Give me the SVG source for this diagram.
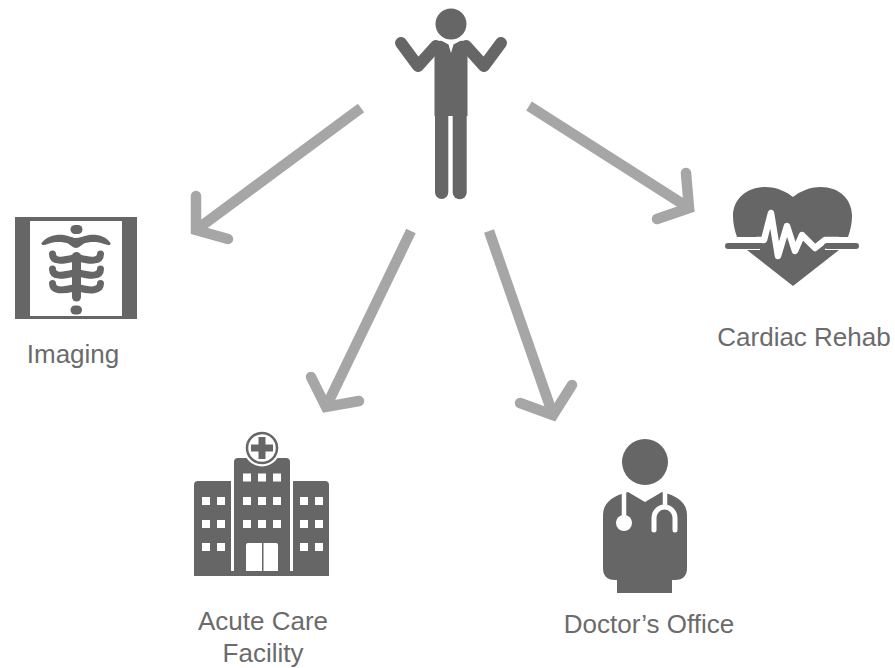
<svg xmlns="http://www.w3.org/2000/svg" width="895" height="668" viewBox="0 0 895 668">
<style>
.f{fill:#666}
.w{fill:#fff}
.ws{fill:none;stroke:#fff;stroke-linecap:round;stroke-linejoin:round}
.gs{fill:none;stroke:#666;stroke-linecap:round;stroke-linejoin:round}
.a{fill:none;stroke:#a6a6a6;stroke-width:10.5}
.b{stroke-linecap:round;stroke-linejoin:miter;stroke-miterlimit:10}
text{font-family:"Liberation Sans",Arial,sans-serif;font-size:26px;fill:#6b6b6b;text-anchor:middle}
</style>
<rect width="895" height="668" fill="#fff"/>
<g id="connectors">
<path class="a" d="M361 108L196 230"/><path class="a b" d="M196 196V230L228 239"/>
<path class="a" d="M411 231L326 407"/><path class="a b" d="M311 377L326 407L359 401"/>
<path class="a" d="M489 231L553 415"/><path class="a b" d="M520 403L553 415L572 385"/>
<path class="a" d="M529 106L689 208"/><path class="a b" d="M686 173L689 208L657 219"/>
</g>
<g id="person">
<circle class="f" cx="451" cy="24" r="15.500"/>
<path class="f" d="M434.500 46Q436 40 442 41L448.500 44.500L451 53L453.500 44.500L460 41Q466 40 467.500 46V116H434.500Z"/>
<path class="f" d="M435 110H448.300V192.300A6.650 6.650 0 0 1 435 192.300Z"/>
<path class="f" d="M452.700 110H466.700V192.300A7 7 0 0 1 452.700 192.300Z"/>
<path class="gs" stroke-width="12" d="M401 43L418 66L436 46M501 43L484 66L466 46"/>
</g>
<g id="imaging">
<rect class="f" x="15" y="217" width="122" height="102"/>
<rect class="w" x="30" y="221" width="92" height="95"/>
<rect class="f" x="70.500" y="225" width="12" height="9" rx="4.500"/>
<rect class="f" x="70.500" y="305.500" width="11.500" height="9" rx="4.500"/>
<path class="f" d="M41.500 243C47 236 56 234 64 235C70 236 73 238 76 238C79 238 83 236 89 235C97 234 106 236 110.500 243C111 246 108 245 104 244C97 241 90 242 85 243C81 245 79 248 76 248C73 248 71 245 67 243C62 242 55 241 48 244C45 245 41 246 41.500 243Z"/>
<path class="gs" stroke-width="9" d="M76.500 256.500V297"/>
<path class="gs" stroke-width="7" d="M52.500 254C52.500 262 62 261 74 258M100.500 254C100.500 262 90 261 79 258"/>
<path class="gs" stroke-width="7" d="M52.500 269C52.500 277 62 276 74 273M100.500 269C100.500 277 90 276 79 273"/>
<path class="gs" stroke-width="7" d="M52.500 283.500C52.500 291 62 291 74 288M100.500 283.500C100.500 291 90 291 79 288"/>
</g>
<g id="hospital">
<path class="f" d="M194 576V485Q194 481 198 481H231V571H234V462Q234 458 238 458H286Q290 458 290 462V571H293V481H325Q329 481 329 485V576Z"/>
<circle class="w" cx="262" cy="448" r="18.500"/>
<circle class="w" cx="262" cy="448" r="15" stroke="#666" stroke-width="2.500"/>
<path class="f" d="M258.500 437H265.500V444.500H273V451.500H265.500V459H258.500V451.500H251V444.500H258.500Z"/>
<g class="w">
<rect x="243" y="473.500" width="8" height="8"/><rect x="258" y="473.500" width="8" height="8"/><rect x="273" y="473.500" width="8" height="8"/>
<rect x="243" y="497" width="8" height="8"/><rect x="258" y="497" width="8" height="8"/><rect x="273" y="497" width="8" height="8"/>
<rect x="243" y="520" width="8" height="8"/><rect x="258" y="520" width="8" height="8"/><rect x="273" y="520" width="8" height="8"/>
<rect x="202" y="497" width="8" height="8"/><rect x="217" y="497" width="8" height="8"/>
<rect x="202" y="520" width="8" height="8"/><rect x="217" y="520" width="8" height="8"/>
<rect x="202" y="543" width="8" height="8"/><rect x="217" y="543" width="8" height="8"/>
<rect x="300" y="497" width="8" height="8"/><rect x="315" y="497" width="8" height="8"/>
<rect x="300" y="520" width="8" height="8"/><rect x="315" y="520" width="8" height="8"/>
<rect x="300" y="543" width="8" height="8"/><rect x="315" y="543" width="8" height="8"/>
<path d="M246 571V545Q246 543 248 543H262V571Z"/><path d="M263.500 571V543H276Q278 543 278 545V571Z"/>
</g>
</g>
<g id="doctor">
<circle class="f" cx="645" cy="462" r="23"/>
<path class="f" d="M603 515Q603 498 628 492L645 502L662 492Q687 498 687 515V568Q687 580 675 580H672V593H617V580H615Q603 580 603 568Z"/>
<path class="ws" stroke-width="4.500" d="M624 491V522"/>
<circle class="w" cx="624" cy="523" r="8"/>
<path class="ws" stroke-width="4.500" d="M665 491V506"/>
<path class="ws" stroke-width="5" d="M654 530V518A10.500 11 0 0 1 675 518V530"/>
</g>
<g id="cardiac">
<path class="f" d="M737 237Q733 226 733 216C733 198 748 187 765 187C777 187 787 192 793 197C799 192 809 187 821 187C838 187 852 198 852 216Q852 226 848 237H825V250H839L793 286L747 250H760V237Z"/>
<path fill="none" stroke="#fff" stroke-width="6.500" stroke-linejoin="round" stroke-linecap="round" d="M757 240H764L771 213L778 256L787 226L795 251L802 235L815 248L825 240H838"/>
<path class="gs" stroke-width="6" d="M728 246H760"/>
<path class="gs" stroke-width="6" d="M827 246H856"/>
</g>
<text x="73" y="363">Imaging</text>
<text x="804" y="346">Cardiac Rehab</text>
<text x="263" y="630">Acute Care</text>
<text x="263" y="662">Facility</text>
<text x="649" y="633">Doctor’s Office</text>
</svg>
